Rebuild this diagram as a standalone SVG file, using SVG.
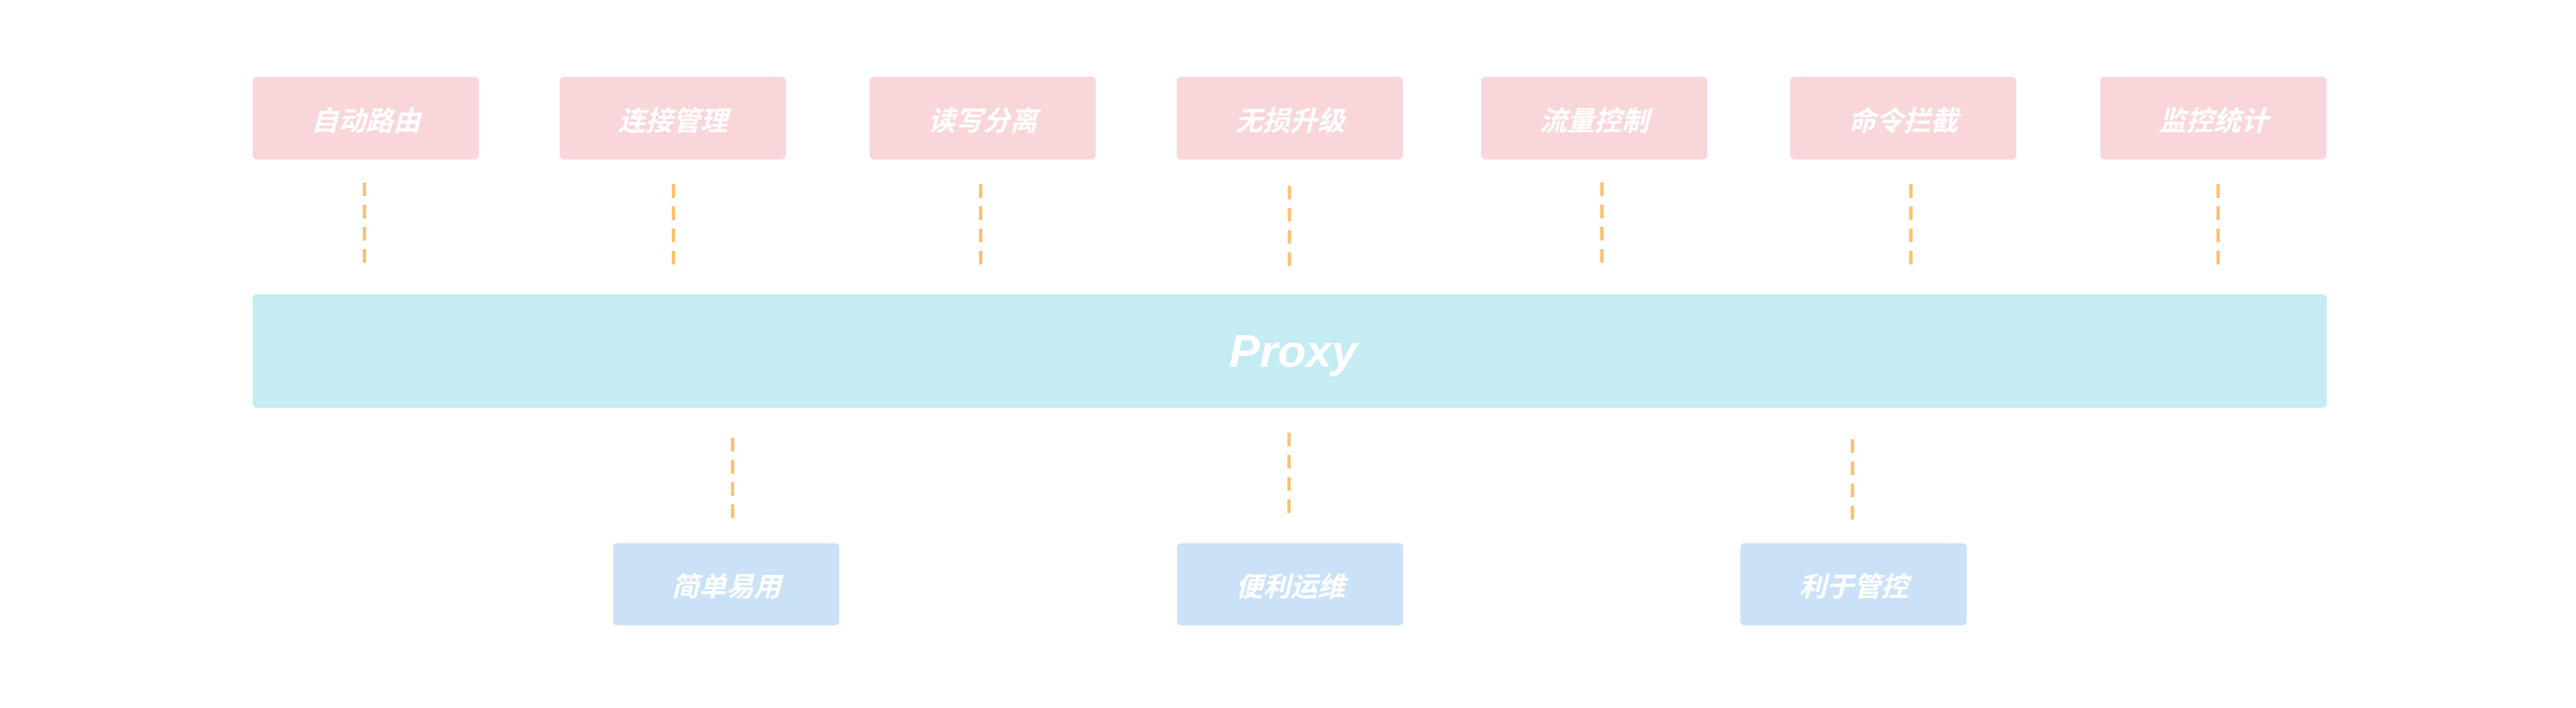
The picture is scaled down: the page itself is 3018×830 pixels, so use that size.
<svg xmlns="http://www.w3.org/2000/svg" width="3018" height="830" viewBox="0 0 3018 830">
<style>
.top{fill:#F9D6DA}
.bot{fill:#CBE1F7}
.bar{fill:#C4ECF2}
.lbl{fill:#FFFFFF;font-family:"Noto Sans CJK SC","Noto Sans",sans-serif;font-weight:bold;font-style:italic;font-size:32px;text-anchor:middle;dominant-baseline:central}
.big{fill:#FFFFFF;font-family:"Liberation Sans",Arial,sans-serif;font-weight:bold;font-style:italic;font-size:54px;text-anchor:middle}
.dash{stroke:#FBC170;stroke-width:4;stroke-dasharray:16 10;fill:none}
</style>
<rect width="3018" height="830" fill="#FFFFFF"/>
<g id="connectors">
<line class="dash" x1="427" y1="214" x2="427" y2="308"/>
<line class="dash" x1="789" y1="216" x2="789" y2="310"/>
<line class="dash" x1="1149" y1="216" x2="1149" y2="310"/>
<line class="dash" x1="1510.7" y1="217.7" x2="1510.7" y2="311.7"/>
<line class="dash" x1="1876.7" y1="214" x2="1876.7" y2="308"/>
<line class="dash" x1="2238.7" y1="216" x2="2238.7" y2="310"/>
<line class="dash" x1="2598.7" y1="216" x2="2598.7" y2="310"/>
<line class="dash" x1="858.3" y1="513.3" x2="858.3" y2="607.3"/>
<line class="dash" x1="1510.3" y1="507.3" x2="1510.3" y2="601.3"/>
<line class="dash" x1="2170.3" y1="515" x2="2170.3" y2="609"/>
</g>
<g id="n1"><rect class="top" x="296" y="90" width="265" height="97" rx="5"/><text class="lbl" x="428.5" y="138.5">自动路由</text></g>
<g id="n2"><rect class="top" x="655.7" y="90" width="265" height="97" rx="5"/><text class="lbl" x="788.2" y="138.5">连接管理</text></g>
<g id="n3"><rect class="top" x="1018.7" y="90" width="265" height="97" rx="5"/><text class="lbl" x="1151.2" y="138.5">读写分离</text></g>
<g id="n4"><rect class="top" x="1378.7" y="90" width="265" height="97" rx="5"/><text class="lbl" x="1511.2" y="138.5">无损升级</text></g>
<g id="n5"><rect class="top" x="1735.3" y="90" width="265" height="97" rx="5"/><text class="lbl" x="1867.8" y="138.5">流量控制</text></g>
<g id="n6"><rect class="top" x="2097.3" y="90" width="265" height="97" rx="5"/><text class="lbl" x="2229.8" y="138.5">命令拦截</text></g>
<g id="n7"><rect class="top" x="2460.7" y="90" width="265" height="97" rx="5"/><text class="lbl" x="2593.2" y="138.5">监控统计</text></g>
<g id="proxy"><rect class="bar" x="296" y="345" width="2430" height="133" rx="5"/><text class="big" x="1515" y="430">Proxy</text></g>
<g id="b1"><rect class="bot" x="718.3" y="636.7" width="265" height="96.6" rx="5"/><text class="lbl" x="850.8" y="685">简单易用</text></g>
<g id="b2"><rect class="bot" x="1379" y="636.7" width="265" height="96.6" rx="5"/><text class="lbl" x="1511.5" y="685">便利运维</text></g>
<g id="b3"><rect class="bot" x="2039" y="636.7" width="265" height="96.6" rx="5"/><text class="lbl" x="2171.5" y="685">利于管控</text></g>
</svg>
